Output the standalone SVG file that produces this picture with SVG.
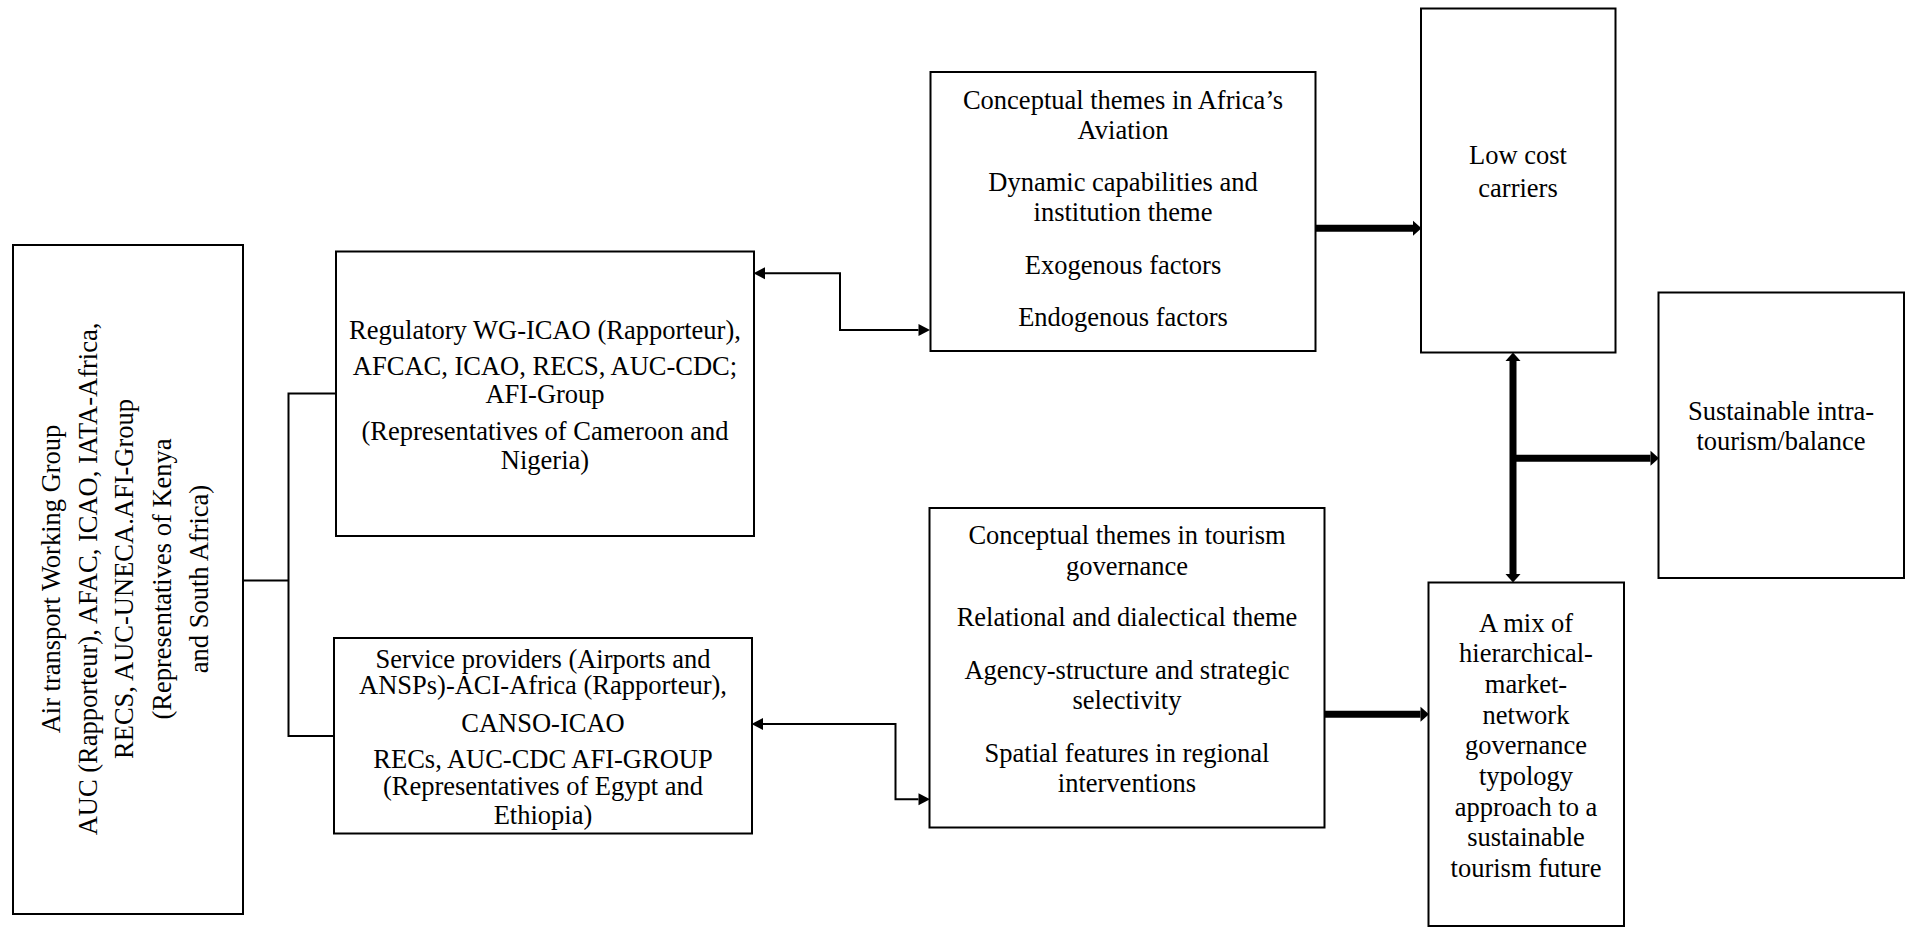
<svg xmlns="http://www.w3.org/2000/svg" width="1910" height="930" viewBox="0 0 1910 930">
<style>
  .box { fill: #ffffff; stroke: #000000; stroke-width: 2; }
  .t { font-family: "Liberation Serif", "Times New Roman", serif; font-size: 26.5px; fill: #000000; text-anchor: middle; }
  .thin { fill: none; stroke: #000000; stroke-width: 2; }
  .thick { fill: none; stroke: #000000; stroke-width: 7; }
</style>
<defs>
  <marker id="ah" markerUnits="userSpaceOnUse" markerWidth="13" markerHeight="14" refX="0" refY="6.5" orient="auto-start-reverse" overflow="visible">
    <path d="M0,0.5 L11.5,6.5 L0,12.5 Z" fill="#000000"/>
  </marker>
  <marker id="ahb" markerUnits="userSpaceOnUse" markerWidth="10" markerHeight="18" refX="0" refY="8" orient="auto-start-reverse" overflow="visible">
    <path d="M0,0.5 L8.5,8 L0,15.5 Z" fill="#000000"/>
  </marker>
</defs>
<rect width="1910" height="930" fill="#ffffff"/>

<g id="connectors">
  <path class="thin" d="M243,580.5 H288.5 M288.5,393.5 V736 M287.5,393.5 H336 M287.5,736 H334"/>
  <path class="thin" d="M765,273.3 H840 V330 H918.5" marker-start="url(#ah)" marker-end="url(#ah)"/>
  <path class="thin" d="M763,724 H895.5 V799.3 H918.5" marker-start="url(#ah)" marker-end="url(#ah)"/>
  <path class="thick" d="M1316,228.3 H1413" marker-end="url(#ahb)"/>
  <path class="thick" d="M1325,714.3 H1420.5" marker-end="url(#ahb)"/>
  <path class="thick" d="M1513,361 V574" marker-start="url(#ahb)" marker-end="url(#ahb)"/>
  <path class="thick" d="M1513,458.2 H1650.5" marker-end="url(#ahb)"/>
</g>

<g id="node-air-transport">
  <rect class="box" x="13" y="245" width="230" height="669"/>
  <g transform="translate(0,579) rotate(-90)">
    <text class="t" x="0" y="60">Air transport Working Group</text>
    <text class="t" x="0" y="96.7">AUC (Rapporteur), AFAC, ICAO, IATA-Africa,</text>
    <text class="t" x="0" y="133.3">RECS, AUC-UNECA.AFI-Group</text>
    <text class="t" x="0" y="170.7">(Representatives of Kenya</text>
    <text class="t" x="0" y="208.3">and South Africa)</text>
  </g>
</g>

<g id="node-regulatory">
  <rect class="box" x="336" y="251.5" width="418" height="284.5"/>
  <text class="t" x="545" y="339.4">Regulatory WG-ICAO (Rapporteur),</text>
  <text class="t" x="545" y="375.2">AFCAC, ICAO, RECS, AUC-CDC;</text>
  <text class="t" x="545" y="403.3">AFI-Group</text>
  <text class="t" x="545" y="439.9">(Representatives of Cameroon and</text>
  <text class="t" x="545" y="468.9">Nigeria)</text>
</g>

<g id="node-service">
  <rect class="box" x="334" y="638" width="418" height="195.5"/>
  <text class="t" x="543" y="667.6">Service providers (Airports and</text>
  <text class="t" x="543" y="694.4">ANSPs)-ACI-Africa (Rapporteur),</text>
  <text class="t" x="543" y="732.3">CANSO-ICAO</text>
  <text class="t" x="543" y="768">RECs, AUC-CDC AFI-GROUP</text>
  <text class="t" x="543" y="794.8">(Representatives of Egypt and</text>
  <text class="t" x="543" y="823.8">Ethiopia)</text>
</g>

<g id="node-aviation">
  <rect class="box" x="930.5" y="72" width="385" height="279"/>
  <text class="t" x="1123" y="108.5">Conceptual themes in Africa’s</text>
  <text class="t" x="1123" y="139">Aviation</text>
  <text class="t" x="1123" y="190.8">Dynamic capabilities and</text>
  <text class="t" x="1123" y="221.4">institution theme</text>
  <text class="t" x="1123" y="273.8">Exogenous factors</text>
  <text class="t" x="1123" y="325.9">Endogenous factors</text>
</g>

<g id="node-tourism">
  <rect class="box" x="929.5" y="508" width="395" height="319.5"/>
  <text class="t" x="1127" y="544">Conceptual themes in tourism</text>
  <text class="t" x="1127" y="574.5">governance</text>
  <text class="t" x="1127" y="626">Relational and dialectical theme</text>
  <text class="t" x="1127" y="679">Agency-structure and strategic</text>
  <text class="t" x="1127" y="709">selectivity</text>
  <text class="t" x="1127" y="761.5">Spatial features in regional</text>
  <text class="t" x="1127" y="791.5">interventions</text>
</g>

<g id="node-low-cost">
  <rect class="box" x="1421" y="8.5" width="194.5" height="344"/>
  <text class="t" x="1518" y="164">Low cost</text>
  <text class="t" x="1518" y="196.5">carriers</text>
</g>

<g id="node-sustainable">
  <rect class="box" x="1658.5" y="292.5" width="245.5" height="285.5"/>
  <text class="t" x="1781" y="419.5">Sustainable intra-</text>
  <text class="t" x="1781" y="449.5">tourism/balance</text>
</g>

<g id="node-mix">
  <rect class="box" x="1428.5" y="582.5" width="195.5" height="343.5"/>
  <text class="t" x="1526" y="631.5">A mix of</text>
  <text class="t" x="1526" y="662.2">hierarchical-</text>
  <text class="t" x="1526" y="692.9">market-</text>
  <text class="t" x="1526" y="723.6">network</text>
  <text class="t" x="1526" y="754.3">governance</text>
  <text class="t" x="1526" y="785">typology</text>
  <text class="t" x="1526" y="815.7">approach to a</text>
  <text class="t" x="1526" y="846.4">sustainable</text>
  <text class="t" x="1526" y="877.1">tourism future</text>
</g>
</svg>
